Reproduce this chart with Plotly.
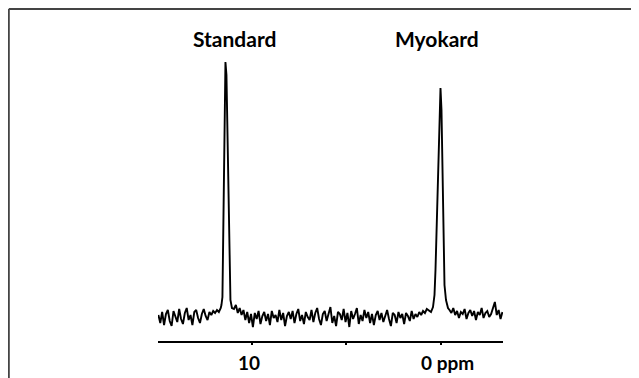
import numpy as np
import plotly.graph_objects as go

# ---- data (ppm, arbitrary intensity, baseline ~0) ----
# baseline noise, segment left of the Standard peak (14.95 -> 11.65 ppm)
noise_a = [2, -6, 5, -8, 3, 7, -4, -9, 6, 1, -5, 8, -2, -7, 4, 9, -3, 2, -8, 5,
           7, -1, -6, 3, 8, 1, -3, 5, 2, 6, 4, 7, 5, 9]
# Standard peak
std_ppm = [11.614, 11.561, 11.508, 11.455, 11.402, 11.349, 11.296, 11.243, 11.190, 11.138, 11.058]
std_int = [12, 20, 112, 167, 255, 242, 177, 97, 39, 17, 9]
# baseline noise between the peaks (10.95 -> 0.65 ppm)
noise_b = [8, 12, 4, 9, 2, 7, -3, 5, -6, 3,
           -10, 4, -2, 6, -7, 1, 5, -4, 3, -8,
           6, -1, 2, -5, 7, -3, 4, -9, 1, 5,
           -2, 6, -6, 3, 8, -4, 2, -7, 5, 0,
           -3, 7, -5, 4, 9, -2, -8, 3, 6, -4,
           2, 10, -6, 1, -9, 5, 3, -3, 8, -5,
           4, -10, 6, -2, 3, 9, -7, 2, -4, 7,
           -1, 5, -6, 3, -8, 2, 6, -3, 4, -5,
           1, 7, -2, -9, 4, 2, -6, 5, -1, 3,
           -7, 4, 1, -4, 6, -2, 3, 0, 5, 2,
           6, 4, 8, 7]
# Myokard peak
myo_ppm = [0.529, 0.423, 0.344, 0.291, 0.238, 0.185, 0.132, 0.079, 0.026,
           -0.026, -0.079, -0.132, -0.185, -0.265, -0.370]
myo_int = [5, 10, 22, 47, 82, 112, 147, 197, 229, 207, 137, 77, 32, 17, 9]
# baseline noise right of the Myokard peak (-0.45 -> -3.25 ppm)
noise_c = [7, 4, 9, 2, 6, -1, 5, 3, 8, -2, 4, 7, 1, 6, -3, 5, 2, 9, -1, 4,
           6, 0, 3, 10, 15, 2, 7, -2, 5]

peak_labels = ["Standard", "Myokard"]
peak_label_ppm = [10.9, 0.2]
tick_vals = [10, 5, 0]
tick_text = ["10", "", "0 ppm"]

# sampling grids of the noise segments
ppm_a = np.linspace(14.95, 11.65, len(noise_a))
ppm_b = np.linspace(10.95, 0.65, len(noise_b))
ppm_c = np.linspace(-0.45, -3.25, len(noise_c))

x = np.concatenate([ppm_a, std_ppm, ppm_b, myo_ppm, ppm_c])
y = np.concatenate([noise_a, std_int, noise_b, myo_int, noise_c])

fig = go.Figure()
fig.add_trace(go.Scatter(x=x, y=y, mode="lines",
                         line=dict(color="black", width=1.9),
                         hoverinfo="skip", showlegend=False))

FONT = "Lato"
for lab, px in zip(peak_labels, peak_label_ppm):
    fig.add_annotation(x=px, xref="x", y=1.078, yref="paper", text=f"<b>{lab}</b>",
                       showarrow=False, yanchor="middle", xanchor="center",
                       font=dict(family=FONT, size=21, color="black"))

label_shift = {"10": -3, "0 ppm": 7}
for tv, tt in zip(tick_vals, tick_text):
    if tt:
        fig.add_annotation(x=tv, xref="x", y=-0.075, yref="paper", text=f"<b>{tt}</b>",
                           showarrow=False, yanchor="middle", xanchor="center",
                           xshift=label_shift.get(tt, 0),
                           font=dict(family=FONT, size=19, color="black"))

# frame (cropped box: left and top edges)
fl, ft, fr, fb = -0.4325, 1.1815, 1.45, -0.20
fig.add_shape(type="line", xref="paper", yref="paper", x0=fl, y0=fb, x1=fl, y1=ft,
              line=dict(color="#444444", width=2))
fig.add_shape(type="line", xref="paper", yref="paper", x0=fl, y0=ft, x1=fr, y1=ft,
              line=dict(color="#444444", width=2))

fig.update_layout(
    width=639, height=378,
    margin=dict(l=150, r=144, t=52, b=45),
    paper_bgcolor="white", plot_bgcolor="white",
    xaxis=dict(range=[14.97, -3.28], showgrid=False, zeroline=False,
               showline=True, linecolor="black", linewidth=1.5,
               tickvals=tick_vals, ticktext=["" for _ in tick_vals],
               ticks="outside", ticklen=2, tickwidth=2, tickcolor="black"),
    yaxis=dict(range=[-24, 257], visible=False),
)

fig.write_html("out.html")
